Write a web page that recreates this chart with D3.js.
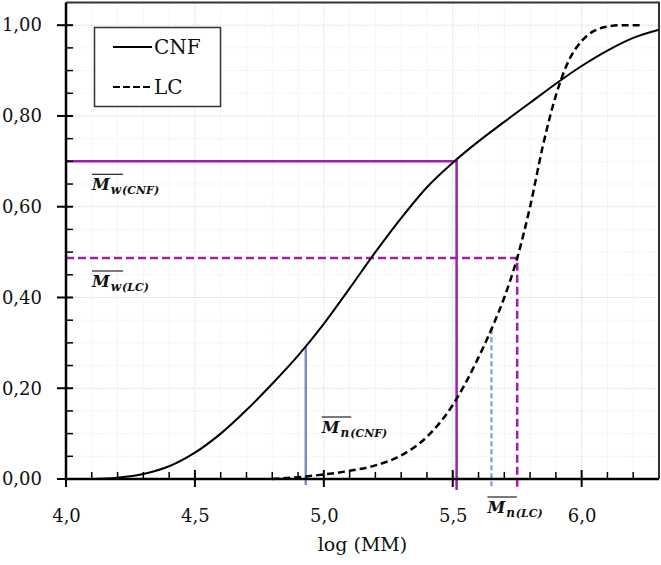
<!DOCTYPE html>
<html lang="en">
<head>
<meta charset="UTF-8">
<style>
  body { margin: 0; background: #fff; }
  text { font-family: "DejaVu Serif", serif; fill: #111; }
</style>
</head>
<body>
<svg id="chart" width="661" height="565"></svg>
<script src="https://cdn.jsdelivr.net/npm/d3@7"></script>
<script>
/* global d3 */

// CNF cumulative curve (solid)
var cnfLogMM = [4.1, 4.2, 4.3, 4.4, 4.5, 4.6, 4.7, 4.8, 4.9, 5.0, 5.1, 5.2, 5.3, 5.4, 5.5,
                5.6, 5.7, 5.8, 5.9, 6.0, 6.1, 6.2, 6.3];
var cnfFrac  = [0, 0.003, 0.011, 0.028, 0.058, 0.100, 0.152, 0.210, 0.272, 0.342, 0.420, 0.500,
                0.575, 0.643, 0.697, 0.744, 0.787, 0.829, 0.871, 0.910, 0.944, 0.972, 0.990];

// LC cumulative curve (dashed)
var lcLogMM = [4.8, 4.9, 5.0, 5.1, 5.2, 5.3, 5.4, 5.5, 5.6, 5.65, 5.7, 5.75, 5.8, 5.85,
               5.9, 5.95, 6.0, 6.05, 6.1, 6.15, 6.2, 6.24];
var lcFrac  = [0, 0.004, 0.010, 0.018, 0.030, 0.052, 0.093, 0.163, 0.268, 0.33, 0.40, 0.487,
               0.60, 0.735, 0.845, 0.922, 0.965, 0.988, 0.997, 1.0, 1.0, 1.0];

// average molar masses (log) and the cumulative fraction where they meet the curve
var avgNames = ["w", "w", "n", "n"];
var avgTags  = ["CNF", "LC", "CNF", "LC"];
var avgLogMM = [5.515, 5.75, 4.93, 5.65];
var avgFrac  = [0.70, 0.487, 0.29, 0.33];

var xTicks = [4.0, 4.5, 5.0, 5.5, 6.0];
var yTicks = [0, 0.2, 0.4, 0.6, 0.8, 1.0];
var legendNames = ["CNF", "LC"];

var svg = d3.select("#chart");
var x = d3.scaleLinear().domain([4, 6.3]).range([66, 659]);
var y = d3.scaleLinear().domain([0, 1.05]).range([479, 2.5]);
var comma = function(fmt) { return function(d) { return d3.format(fmt)(d).replace(".", ","); }; };

var xMinor = d3.range(41, 63).map(function(i) { return i / 10; }).filter(function(d) { return Math.round(d * 10) % 5 !== 0; });
var yMinor = d3.range(0, 21).map(function(i) { return i / 20; }).filter(function(d) { return Math.round(d * 100) % 20 !== 0; });

// grid
var grid = svg.append("g");
grid.selectAll(".gx").data(d3.range(41, 63).map(function(i) { return i / 10; }))
  .join("line")
  .attr("x1", function(d) { return x(d); }).attr("x2", function(d) { return x(d); })
  .attr("y1", y(1.05)).attr("y2", y(0))
  .attr("stroke", function(d) { return Math.abs(d * 2 - Math.round(d * 2)) < 1e-6 ? "#e0e0e0" : "#f1f1f1"; })
  .attr("stroke-dasharray", "2,1");
grid.selectAll(".gy").data(d3.range(1, 21).map(function(i) { return i / 20; }))
  .join("line")
  .attr("x1", x(4)).attr("x2", x(6.3))
  .attr("y1", function(d) { return y(d); }).attr("y2", function(d) { return y(d); })
  .attr("stroke", function(d) { return Math.abs(d * 5 - Math.round(d * 5)) < 1e-6 ? "#e0e0e0" : "#f1f1f1"; })
  .attr("stroke-dasharray", "2,1");

// frame top/right
svg.append("path")
  .attr("d", "M" + x(4) + "," + y(1.05) + "H" + x(6.3) + "V" + y(0))
  .attr("fill", "none").attr("stroke", "#333").attr("stroke-width", 2);

// reference lines
var purple = "#a21caf", blue = "#7b8cc4", lightBlue = "#8fa3dc";
var refs = svg.append("g").attr("fill", "none");
// Mw(CNF): solid
refs.append("path")
  .attr("d", "M" + x(4) + "," + y(avgFrac[0]) + "H" + x(avgLogMM[0]) + "V" + (y(0) + 11))
  .attr("stroke", purple).attr("stroke-width", 2.5);
// Mw(LC): dashed
refs.append("path")
  .attr("d", "M" + x(4) + "," + y(avgFrac[1]) + "H" + x(avgLogMM[1]) + "V" + (y(0) + 10))
  .attr("stroke", purple).attr("stroke-width", 2.5).attr("stroke-dasharray", "8,4");
// Mn(CNF)
refs.append("line")
  .attr("x1", x(avgLogMM[2])).attr("x2", x(avgLogMM[2]))
  .attr("y1", y(avgFrac[2])).attr("y2", y(0) + 6)
  .attr("stroke", blue).attr("stroke-width", 2.5);
// Mn(LC)
refs.append("line")
  .attr("x1", x(avgLogMM[3])).attr("x2", x(avgLogMM[3]))
  .attr("y1", y(avgFrac[3])).attr("y2", y(0) + 9)
  .attr("stroke", lightBlue).attr("stroke-width", 2.5).attr("stroke-dasharray", "5,3");

// curves
var curve = d3.line().curve(d3.curveMonotoneX)
  .x(function(d) { return x(d[0]); }).y(function(d) { return y(d[1]); });
svg.append("path").datum(d3.zip(cnfLogMM, cnfFrac))
  .attr("d", curve).attr("fill", "none").attr("stroke", "#000").attr("stroke-width", 2);
svg.append("path").datum(d3.zip(lcLogMM, lcFrac))
  .attr("d", curve).attr("fill", "none").attr("stroke", "#000").attr("stroke-width", 2.5)
  .attr("stroke-dasharray", "7,4");

// axis labels from d3 axes
var yAxis = svg.append("g").attr("transform", "translate(" + x(4) + ",0)")
  .call(d3.axisLeft(y).tickValues(yTicks).tickSize(9).tickPadding(15).tickFormat(comma(".2f")).tickSizeOuter(0));
yAxis.selectAll("text").attr("font-size", 18).attr("font-family", "DejaVu Serif").attr("fill", "#111");
yAxis.selectAll("line,path").remove();

var xAxis = svg.append("g").attr("transform", "translate(0," + y(0) + ")")
  .call(d3.axisBottom(x).tickValues(xTicks).tickSize(8).tickPadding(22).tickFormat(comma(".1f")).tickSizeOuter(0));
xAxis.selectAll("text").attr("font-size", 18).attr("font-family", "DejaVu Serif").attr("fill", "#111");
xAxis.selectAll("line,path").remove();

// axis lines and tick marks as filled rects placed by the scales
var ink = svg.append("g");
ink.append("rect").attr("x", x(4) - 1.25).attr("y", y(1.05)).attr("width", 2.5)
  .attr("height", y(0) - y(1.05) + 1.25).attr("fill", "#000");
ink.append("rect").attr("x", x(4) - 1.25).attr("y", y(0) - 1.25).attr("width", x(6.3) - x(4) + 1.25)
  .attr("height", 2.5).attr("fill", "#000");
ink.selectAll(".ym").data(yMinor).join("rect")
  .attr("x", x(4)).attr("y", function(d) { return y(d) - 0.75; })
  .attr("width", 7).attr("height", 1.5).attr("fill", "#000");
ink.selectAll(".yM").data(yTicks).join("rect")
  .attr("x", x(4) - 9).attr("y", function(d) { return y(d) - 1; })
  .attr("width", 16).attr("height", 2).attr("fill", "#000");
ink.selectAll(".xm").data(xMinor).join("rect")
  .attr("x", function(d) { return x(d) - 0.75; }).attr("y", y(0) - 7)
  .attr("width", 1.5).attr("height", 7).attr("fill", "#000");
ink.selectAll(".xM").data(xTicks).join("rect")
  .attr("x", function(d) { return x(d) - 1; }).attr("y", y(0) - 9)
  .attr("width", 2).attr("height", 17).attr("fill", "#000");

svg.append("text").attr("x", (x(4) + x(6.3)) / 2).attr("y", 551)
  .attr("text-anchor", "middle").attr("font-size", 19).text("log (MM)");

// legend
var legend = svg.append("g");
legend.append("rect").attr("x", 94.5).attr("y", 27.5).attr("width", 126).attr("height", 79)
  .attr("fill", "#fff").attr("stroke", "#333").attr("stroke-width", 1.5);
legendNames.forEach(function(name, i) {
  var ly = 47 + i * 40;
  legend.append("line").attr("x1", 113).attr("x2", 152).attr("y1", ly).attr("y2", ly)
    .attr("stroke", "#000").attr("stroke-width", 2)
    .attr("stroke-dasharray", i === 1 ? "7,3" : null);
  legend.append("text").attr("x", 154).attr("y", ly + 7).attr("font-size", 20).text(name);
});

// average labels: M with overline and subscript
function avgLabel(x0, base, sub, tag) {
  var g = svg.append("g").attr("font-weight", "bold").attr("font-style", "italic");
  var m = g.append("text").attr("x", x0).attr("y", base).attr("font-size", 16).text("M");
  var mw = m.node().getComputedTextLength();
  var s = g.append("text").attr("x", x0 + mw + 1).attr("y", base + 4).attr("font-size", 12).text(sub);
  var sw = s.node().getComputedTextLength();
  g.append("text").attr("x", x0 + mw + sw + 2).attr("y", base + 4).attr("font-size", 11).text("(" + tag + ")");
  g.append("line").attr("x1", x0).attr("x2", x0 + mw + sw + 3)
    .attr("y1", base - 16).attr("y2", base - 16).attr("stroke", "#222").attr("stroke-width", 1.2);
}
avgLabel(92, y(avgFrac[0]) + 29, avgNames[0], avgTags[0]);
avgLabel(92, y(avgFrac[1]) + 29, avgNames[1], avgTags[1]);
avgLabel(x(avgLogMM[2]) + 16, 433, avgNames[2], avgTags[2]);
avgLabel(x(avgLogMM[3]) - 4, 513, avgNames[3], avgTags[3]);
</script>
</body>
</html>
